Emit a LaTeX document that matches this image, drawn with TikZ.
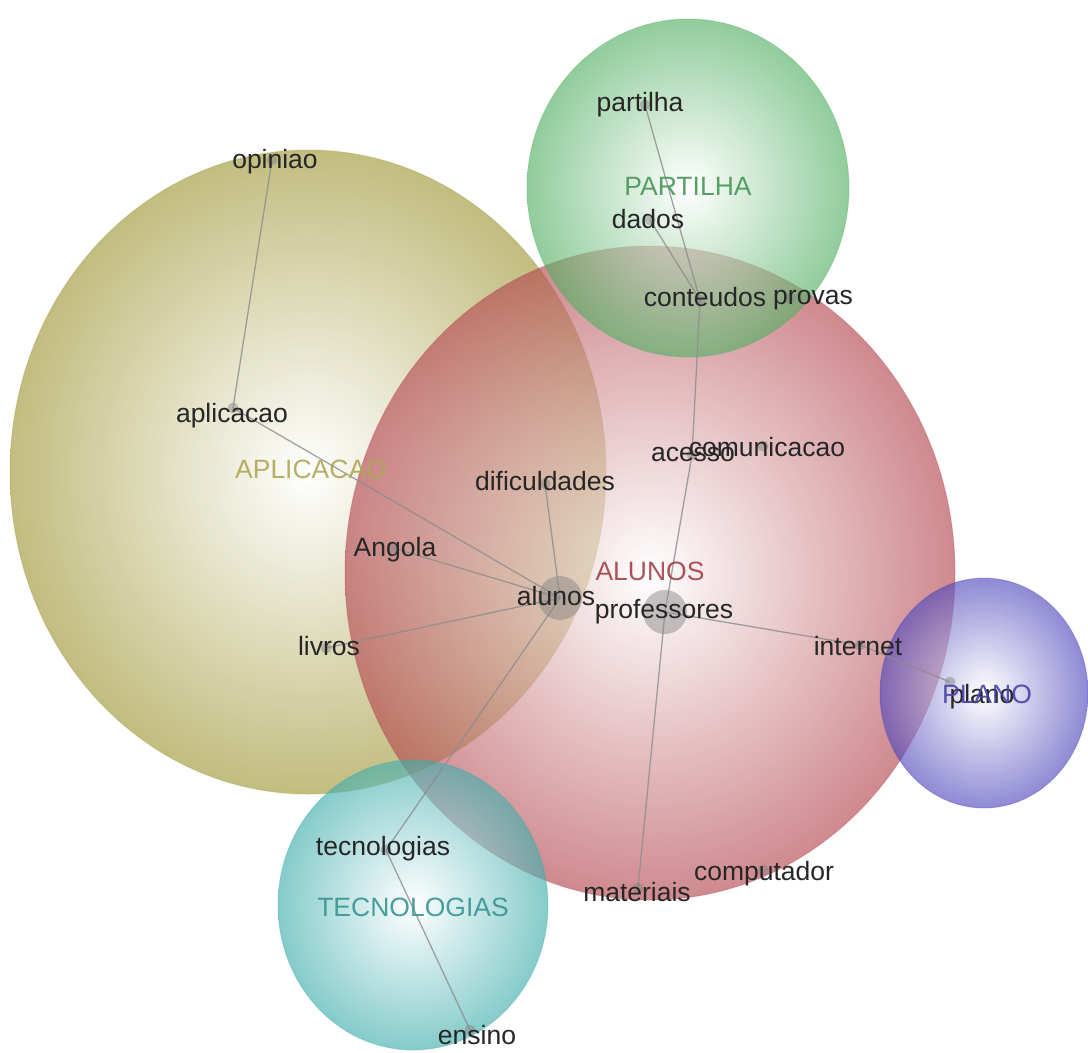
\documentclass[tikz,border=0pt]{standalone}
\usepackage{fontspec}
\setmainfont{Liberation Sans}

\definecolor{cAplic}{RGB}{160,152,56}
\definecolor{cAlunos}{RGB}{180,72,80}
\definecolor{cPart}{RGB}{84,176,100}
\definecolor{cTec}{RGB}{66,174,174}
\definecolor{cPlano}{RGB}{80,72,188}

\begin{document}
\begin{tikzpicture}[
    x=1pt, y=-1pt,
    bolha/.style={
        fill opacity=0.64,
        draw opacity=0.3,
        line width=1pt
    },
    termo/.style={
        font=\fontsize{26.5}{30}\selectfont,
        text=black!85,
        inner sep=0pt,
        text height=20.5pt,
        text depth=3.5pt
    },
    grupo/.style={
        termo,
        text opacity=0.9
    },
    ponto/.style={
        circle,
        fill=black!50,
        fill opacity=0.45,
        inner sep=0pt,
        minimum size=11pt
    },
    pontao/.style={
        ponto,
        minimum size=44pt
    },
    ligacao/.style={
        draw=black!45,
        draw opacity=0.8,
        line width=1.3pt
    }
]

\useasboundingbox (0,0) rectangle (1088,1053);
\fill[white] (0,0) rectangle (1088,1053);

% Bolhas dos grupos
\shade[bolha, inner color=white, outer color=cAplic, draw=cAplic] (308,472) ellipse [x radius=298, y radius=322];
\shade[bolha, inner color=white, outer color=cAlunos, draw=cAlunos] (650,573) ellipse [x radius=305, y radius=327];
\shade[bolha, inner color=white, outer color=cPart, draw=cPart] (688,188) ellipse [x radius=161, y radius=169];
\shade[bolha, inner color=white, outer color=cTec, draw=cTec] (413,905) ellipse [x radius=135, y radius=145];
\shade[bolha, inner color=white, outer color=cPlano, draw=cPlano] (984,693) ellipse [x radius=104, y radius=115];

% Pontos
\node[ponto] (partilha) at (645,105) {};
\node[ponto] (dados) at (650,220) {};
\node[ponto] (conteudos) at (700,300) {};
\node[ponto] (provas) at (790,298) {};
\node[ponto] (acesso) at (692,455) {};
\node[ponto] (comunicacao) at (763,446) {};
\node[ponto] (dificuldades) at (545,484) {};
\node[ponto] (opiniao) at (272,160) {};
\node[ponto] (aplicacao) at (233,408) {};
\node[ponto] (angola) at (393,548) {};
\node[ponto] (livros) at (326,648) {};
\node[pontao] (alunos) at (560,598) {};
\node[pontao] (professores) at (665,612) {};
\node[ponto] (internet) at (860,645) {};
\node[ponto] (plano) at (950,682) {};
\node[ponto] (tecnologias) at (386,850) {};
\node[ponto] (ensino) at (470,1030) {};
\node[ponto] (materiais) at (638,888) {};
\node[ponto] (computador) at (763,870) {};

% Ligacoes
\draw[ligacao] (opiniao.center) -- (aplicacao.center);
\draw[ligacao] (aplicacao.center) -- (alunos.center);
\draw[ligacao] (angola.center) -- (alunos.center);
\draw[ligacao] (livros.center) -- (alunos.center);
\draw[ligacao] (dificuldades.center) -- (alunos.center);
\draw[ligacao] (alunos.center) -- (tecnologias.center);
\draw[ligacao] (tecnologias.center) -- (ensino.center);
\draw[ligacao] (partilha.center) -- (conteudos.center);
\draw[ligacao] (dados.center) -- (conteudos.center);
\draw[ligacao] (conteudos.center) -- (acesso.center);
\draw[ligacao] (acesso.center) -- (professores.center);
\draw[ligacao] (professores.center) -- (internet.center);
\draw[ligacao] (internet.center) -- (plano.center);
\draw[ligacao] (professores.center) -- (materiais.center);

% Termos
\node[termo] (t-partilha) at (640,103) {partilha};
\node[termo] (t-dados) at (648,220) {dados};
\node[termo] (t-conteudos) at (705,298) {conteudos};
\node[termo] (t-provas) at (813,296) {provas};
\node[termo] (t-acesso) at (693,453) {acesso};
\node[termo] (t-comunicacao) at (767,448) {comunicacao};
\node[termo] (t-dificuldades) at (545,482) {dificuldades};
\node[termo] (t-opiniao) at (275,160) {opiniao};
\node[termo] (t-aplicacao) at (232,414) {aplicacao};
\node[termo] (t-angola) at (395,548) {Angola};
\node[termo] (t-livros) at (329,647) {livros};
\node[termo] (t-alunos) at (556,597) {alunos};
\node[termo] (t-professores) at (664,610) {professores};
\node[termo] (t-internet) at (858,647) {internet};
\node[termo] (t-plano) at (982,695) {plano};
\node[termo] (t-tecnologias) at (383,847) {tecnologias};
\node[termo] (t-ensino) at (477,1036) {ensino};
\node[termo] (t-materiais) at (637,893) {materiais};
\node[termo] (t-computador) at (764,872) {computador};

% Nomes dos grupos
\node[grupo, text=cPart!85!black] (g-partilha) at (688,187) {PARTILHA};
\node[grupo, text=cAplic!85] (g-aplicacao) at (311,470) {APLICACAO};
\node[grupo, text=cAlunos!90!black] (g-alunos) at (650,572) {ALUNOS};
\node[grupo, text=cPlano!90!black] (g-plano) at (987,695) {PLANO};
\node[grupo, text=cTec!85!black] (g-tecnologias) at (413,908) {TECNOLOGIAS};

\end{tikzpicture}
\end{document}
